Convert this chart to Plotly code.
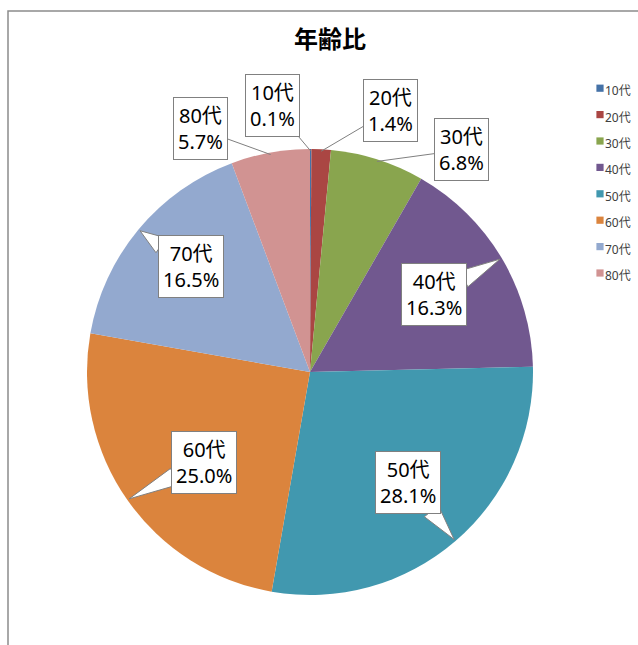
import math
import plotly.graph_objects as go

# ---- data ----
labels = ["10代", "20代", "30代", "40代", "50代", "60代", "70代", "80代"]
values = [0.1, 1.4, 6.8, 16.3, 28.1, 25.0, 16.5, 5.7]
colors = ["#4572A7", "#AA4643", "#89A54E", "#71588F", "#4198AF", "#DB843D", "#93A9CF", "#D19392"]
title_text = "年齢比"

# ---- layout constants (pixels) ----
W, H = 638, 645
CX, CY, R = 310, 372, 223          # pie domain centre / half size
PCX, PCY, PR = 310, 372, 221       # effective drawn pie centre / radius
# label box centres (px) – styling/placement only
box_centers = [(272, 105), (391, 110), (461, 150), (434, 295),
               (408, 482), (204, 462), (191, 266), (200, 129)]
wedge = [False, False, False, True, True, True, True, False]
BOX_HW, BOX_HH = 34, 33

FONT = "Noto Sans, Noto Sans CJK JP, sans-serif"


def px2paper(x, y):
    return x / W, 1 - y / H


total = sum(values)
tips = []
cum = 0.0
for v in values:
    mid = (cum + v / 2) / total * 2 * math.pi
    tips.append((PCX + PR * math.sin(mid), PCY - PR * math.cos(mid)))
    cum += v

fig = go.Figure(go.Pie(
    labels=[f'<span style="font-size:12px">{l}</span>' for l in labels],
    values=values,
    marker=dict(colors=colors, line=dict(width=0)),
    sort=False,
    direction="clockwise",
    rotation=0,
    textinfo="none",
    hoverinfo="label+percent",
    domain=dict(x=[(CX - R) / W, (CX + R) / W],
                y=[(H - CY - R) / H, (H - CY + R) / H]),
))

annotations = []
shapes = []
for i, (lab, v) in enumerate(zip(labels, values)):
    bx, by = box_centers[i]
    tx, ty = tips[i]
    text = f"{lab}<br>{v:.1f}%"
    common = dict(text=text, font=dict(family=FONT, size=20, color="#000000"),
                  bgcolor="#FFFFFF", bordercolor="#808080", borderwidth=1,
                  borderpad=4, xref="paper", yref="paper", align="center",
                  xanchor="center", yanchor="middle")
    if wedge[i]:
        px, py = px2paper(bx, by)
        annotations.append(dict(x=px, y=py, showarrow=False, **common))
        dx, dy = tx - bx, ty - by
        L = math.hypot(dx, dy)
        ux, uy = dx / L, dy / L
        t = min(BOX_HW / abs(dx) if dx else 1e9, BOX_HH / abs(dy) if dy else 1e9)
        ex, ey = bx + t * dx - 5 * ux, by + t * dy - 5 * uy
        nx, ny = -uy, ux
        b1 = px2paper(ex + 9 * nx, ey + 9 * ny)
        b2 = px2paper(ex - 9 * nx, ey - 9 * ny)
        tp = px2paper(tx, ty)
        path = f"M {b1[0]},{b1[1]} L {tp[0]},{tp[1]} L {b2[0]},{b2[1]} Z"
        shapes.append(dict(type="path", path=path, xref="paper", yref="paper",
                           fillcolor="#FFFFFF", line=dict(color="#808080", width=1),
                           layer="above"))
    else:
        px, py = px2paper(tx, ty)
        annotations.append(dict(x=px, y=py, showarrow=True, arrowhead=0,
                                arrowwidth=1, arrowcolor="#808080",
                                ax=bx - tx, ay=by - ty, axref="pixel", ayref="pixel",
                                standoff=0, **common))

# chart-area frame (partially visible)
f0 = px2paper(8, 660)
f1 = px2paper(8, 11)
f2 = px2paper(660, 11)
shapes.append(dict(type="path", xref="paper", yref="paper",
                   path=f"M {f0[0]},{f0[1]} L {f1[0]},{f1[1]} L {f2[0]},{f2[1]}",
                   line=dict(color="#8C8C8C", width=1.5)))

fig.update_layout(
    width=W, height=H,
    margin=dict(l=0, r=0, t=0, b=0),
    paper_bgcolor="#FFFFFF", plot_bgcolor="#FFFFFF",
    title=dict(text=f"<b>{title_text}</b>", x=330 / W, xanchor="center",
               y=1 - 40 / H, yanchor="middle",
               font=dict(family="Noto Sans CJK JP, sans-serif", size=24, color="#000000")),
    showlegend=True,
    legend=dict(x=565 / W, xanchor="left", y=1 - 70 / H, yanchor="top",
                font=dict(family=FONT, size=18, color="#404040"),
                bgcolor="rgba(0,0,0,0)", itemclick=False),
    annotations=annotations,
    shapes=shapes,
)

post = """
document.body.style.margin = '0';
document.body.style.overflow = 'hidden';
document.querySelectorAll('.legendpoints path').forEach(function(p){
  var t = p.getAttribute('transform') || '';
  p.setAttribute('transform', t + ' translate(15,0) scale(0.6)');
});
"""

fig.write_html("out.html", post_script=post, config={"displayModeBar": False})
